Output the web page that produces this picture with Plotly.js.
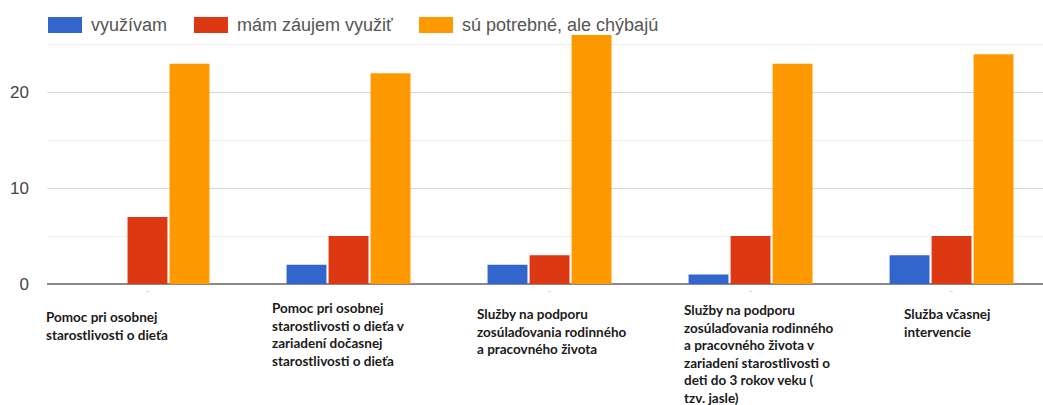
<!DOCTYPE html>
<html>
<head>
<meta charset="utf-8">
<script src="https://cdn.plot.ly/plotly-3.0.1.min.js"></script>
<style>html,body{margin:0;padding:0;background:#fff;}#chart{width:1043px;height:405px;}</style>
</head>
<body>
<div id="chart"></div>
<script>
const categories = [
  "Pomoc pri osobnej starostlivosti o dieťa",
  "Pomoc pri osobnej starostlivosti o dieťa v zariadení dočasnej starostlivosti o dieťa",
  "Služby na podporu zosúlaďovania rodinného a pracovného života",
  "Služby na podporu zosúlaďovania rodinného a pracovného života v zariadení starostlivosti o deti do 3 rokov veku ( tzv. jasle)",
  "Služba včasnej intervencie"
];
const categoryLabels = [
  "Pomoc pri osobnej<br>starostlivosti o dieťa",
  "Pomoc pri osobnej<br>starostlivosti o dieťa v<br>zariadení dočasnej<br>starostlivosti o dieťa",
  "Služby na podporu<br>zosúlaďovania rodinného<br>a pracovného života",
  "Služby na podporu<br>zosúlaďovania rodinného<br>a pracovného života v<br>zariadení starostlivosti o<br>deti do 3 rokov veku (<br>tzv. jasle)",
  "Služba včasnej<br>intervencie"
];
const tickMarks = ["-", "", "-", "-", "-"];
const seriesNames = ["využívam", "mám záujem využiť", "sú potrebné, ale chýbajú"];
const vyuzivam = [0, 2, 2, 1, 3];
const mamZaujem = [7, 5, 3, 5, 5];
const chybaju = [23, 22, 26, 23, 24];
const yTickVals = [0, 10, 20];
const yTickText = ["0", "10", "20"];

const colors = ["#3366cc", "#dc3912", "#ff9900"];
const values = [vyuzivam, mamZaujem, chybaju];
const xIdx = categories.map((_, i) => i);

const traces = values.map((v, k) => ({
  type: "bar",
  name: seriesNames[k],
  x: xIdx,
  y: v,
  marker: {color: colors[k], line: {width: 0}},
  hoverinfo: "y+name",
  showlegend: false
}));

// pixel -> paper helpers (plot area: x 47..1043, y 35..284)
const PL = 47, PW = 996, PB = 284, PH = 249;
const px = p => (p - PL) / PW;
const py = p => (PB - p) / PH;

// custom legend (large swatches like the original)
const legendSwatchLeft = [48, 194, 419];
const shapes = [];
const annotations = [];
seriesNames.forEach((n, k) => {
  const l = legendSwatchLeft[k];
  shapes.push({type: "rect", xref: "paper", yref: "paper",
    x0: px(l), x1: px(l + 34), y0: py(33), y1: py(17),
    fillcolor: colors[k], line: {width: 0}, layer: "above"});
  annotations.push({xref: "paper", yref: "paper", x: px(l + 41), y: py(25),
    xanchor: "left", yanchor: "middle", showarrow: false, text: n,
    font: {family: "Arial, 'Liberation Sans', sans-serif", size: 18, color: "#555"}});
});

const labelShifts = [-104, -79, -75, -69, -50];
const labelTopShift = [-23, -14, -20, -16, -20];
categoryLabels.forEach((t, i) => annotations.push({
  x: i, y: 0, xref: "x", yref: "y",
  text: t, showarrow: false,
  xanchor: "left", yanchor: "top", align: "left",
  xshift: labelShifts[i], yshift: labelTopShift[i],
  font: {family: "Lato, 'Open Sans', sans-serif", size: 13.5, color: "#1a1a1a", weight: 700}
}));

const layout = {
  width: 1043, height: 405,
  margin: {l: 47, r: 0, t: 35, b: 121},
  paper_bgcolor: "#fff", plot_bgcolor: "#fff",
  barmode: "group", bargap: 0.373, bargroupgap: 0.05,
  showlegend: false,
  xaxis: {
    range: [-0.5, 4.455],
    tickvals: xIdx, ticktext: tickMarks,
    tickfont: {size: 9, color: "#bbb"},
    ticks: "", showgrid: false, zeroline: false, showline: false,
    fixedrange: true
  },
  yaxis: {
    range: [0, 26], tickvals: yTickVals, ticktext: yTickText,
    showgrid: true, gridcolor: "#d6d6d6", gridwidth: 1,
    minor: {dtick: 5, showgrid: true, gridcolor: "#ececec", gridwidth: 1},
    zeroline: true, zerolinecolor: "#8a8a8a", zerolinewidth: 2,
    ticks: "", ticklabelstandoff: 17,
    tickfont: {family: "Arial, 'Liberation Sans', sans-serif", size: 17, color: "#444"},
    fixedrange: true
  },
  shapes: shapes,
  annotations: annotations
};

Plotly.newPlot("chart", traces, layout, {displayModeBar: false, staticPlot: true});
</script>
</body>
</html>
